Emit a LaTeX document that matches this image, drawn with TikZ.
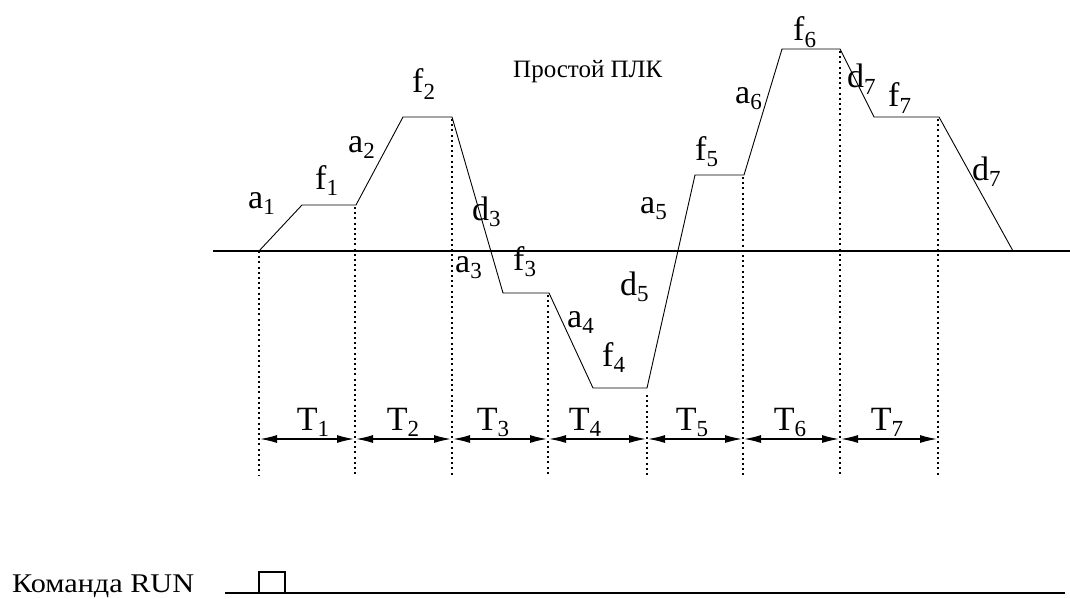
\documentclass[tikz,border=0pt]{standalone}
\usepackage{fontspec}
\setmainfont{Liberation Serif}
\usetikzlibrary{arrows.meta}
\newcommand\lb[2]{#1\raisebox{-0.2em}{\fontsize{23}{23}\selectfont #2}}
\begin{document}
\begin{tikzpicture}[x=1pt,y=-1pt,
  prof/.style={line width=0.9pt},
  axisline/.style={line width=1.3pt},
  dots/.style={line width=2pt, dash pattern=on 2pt off 3.2pt},
  span/.style={line width=1.3pt,{Latex[length=17pt,width=8pt]}-{Latex[length=17pt,width=8pt]}, shorten <=1pt, shorten >=1pt},
  lab/.style={anchor=base west, inner sep=0pt, font=\fontsize{34}{36}\selectfont},
  tlab/.style={anchor=base, inner sep=0pt, font=\fontsize{34}{36}\selectfont},
  captext/.style={anchor=base west, inner sep=0pt, font=\fontsize{25}{28}\selectfont}]
\useasboundingbox (0,0) rectangle (1070,599);
% axis
\coordinate (ax0) at (213,251);
\coordinate (ax1) at (1070,251);
\draw[axisline] (ax0) -- (ax1);
% profile points
\coordinate (p0) at (259,251);
\coordinate (p1) at (302,205);
\coordinate (p2) at (356,205);
\coordinate (p3) at (403,117);
\coordinate (p4) at (452,117);
\coordinate (p5) at (503,293);
\coordinate (p6) at (549,293);
\coordinate (p7) at (593,388);
\coordinate (p8) at (647,388);
\coordinate (p9) at (695,175);
\coordinate (p10) at (744,175);
\coordinate (p11) at (782,49);
\coordinate (p12) at (840,49);
\coordinate (p13) at (874,117);
\coordinate (p14) at (939,117);
\coordinate (p15) at (1013,251);
\draw[prof] (p0) -- (p1) -- (p2) -- (p3) -- (p4) -- (p5) -- (p6) -- (p7) -- (p8) -- (p9) -- (p10) -- (p11) -- (p12) -- (p13) -- (p14) -- (p15);
% dotted verticals
\coordinate (q1) at (259,476);
\coordinate (q2) at (355,476);
\coordinate (q3) at (452,476);
\coordinate (q4) at (548,476);
\coordinate (q5) at (647,476);
\coordinate (q6) at (743,476);
\coordinate (q7) at (840,476);
\coordinate (q8) at (938,476);
\coordinate (s2) at (355,207);
\coordinate (s3) at (452,119);
\coordinate (s4) at (548,295);
\coordinate (s5) at (647,395);
\coordinate (s6) at (743,177);
\coordinate (s7) at (840,51);
\coordinate (s8) at (938,119);
\draw[dots] (p0) -- (q1);
\draw[dots] (s2) -- (q2);
\draw[dots] (s3) -- (q3);
\draw[dots] (s4) -- (q4);
\draw[dots] (s5) -- (q5);
\draw[dots] (s6) -- (q6);
\draw[dots] (s7) -- (q7);
\draw[dots] (s8) -- (q8);
% span arrows
\foreach \a/\b [count=\i] in {259/355,355/452,452/548,548/647,647/743,743/840,840/938}{
  \coordinate (ls\i) at (\a,439);
  \coordinate (rs\i) at (\b,439);
  \draw[span] (ls\i) -- (rs\i);
}
% T labels
\node[tlab] (t1) at (313,430) {\lb{T}{1}};
\node[tlab] (t2) at (403,430) {\lb{T}{2}};
\node[tlab] (t3) at (493,430) {\lb{T}{3}};
\node[tlab] (t4) at (585,430) {\lb{T}{4}};
\node[tlab] (t5) at (692,430) {\lb{T}{5}};
\node[tlab] (t6) at (790,430) {\lb{T}{6}};
\node[tlab] (t7) at (887,430) {\lb{T}{7}};
% segment labels
\node[lab] (la1) at (248,208) {\lb{a}{1}};
\node[lab] (lf1) at (315,189) {\lb{f}{1}};
\node[lab] (la2) at (348,152) {\lb{a}{2}};
\node[lab] (lf2) at (412,93) {\lb{f}{2}};
\node[lab] (ld3) at (472,220) {\lb{d}{3}};
\node[lab] (la3) at (455,272) {\lb{a}{3}};
\node[lab] (lf3) at (513,270) {\lb{f}{3}};
\node[lab] (ld5) at (620,295) {\lb{d}{5}};
\node[lab] (la4) at (567,327) {\lb{a}{4}};
\node[lab] (lf4) at (602,366) {\lb{f}{4}};
\node[lab] (la5) at (640,213) {\lb{a}{5}};
\node[lab] (lf5) at (695,160) {\lb{f}{5}};
\node[lab] (la6) at (735,103) {\lb{a}{6}};
\node[lab] (lf6) at (793,41) {\lb{f}{6}};
\node[lab] (ld7a) at (847,88) {\lb{d}{7}};
\node[lab] (lf7) at (888,107) {\lb{f}{7}};
\node[lab] (ld7b) at (972,180) {\lb{d}{7}};
% title
\node[captext] (title) at (513,78) {Простой ПЛК};
% RUN signal
\node[captext, font=\fontsize{27}{30}\selectfont] (run) at (12,592) {\scalebox{1.12}[1]{Команда RUN}};
\coordinate (r0) at (225,593);
\coordinate (r1) at (259,593);
\coordinate (r2) at (259,572);
\coordinate (r3) at (285,572);
\coordinate (r4) at (285,593);
\coordinate (r5) at (1065,593);
\draw[axisline] (r0) -- (r5);
\draw[prof, line width=1.2pt] (r1) -- (r2) -- (r3) -- (r4);
\end{tikzpicture}
\end{document}
